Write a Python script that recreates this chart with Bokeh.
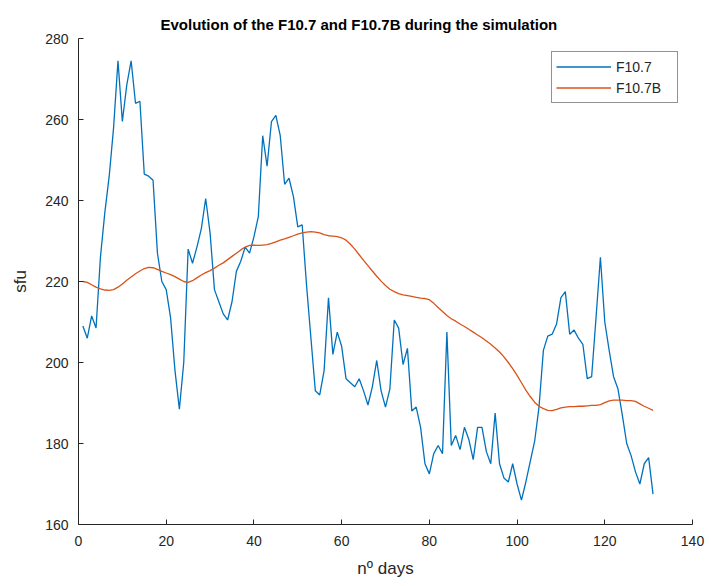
from bokeh.plotting import figure
from bokeh.models import Range1d, FixedTicker, Legend, LegendItem
from bokeh.embed import file_html
from bokeh.resources import INLINE

days = list(range(1, 132))

f107 = [209, 206, 211.5, 208.5, 226, 237, 246, 258, 274.5, 259.5,
        268.5, 274.5, 264, 264.5, 246.5, 246, 245, 227, 220, 218,
        211, 198, 188.5, 200, 228, 224.5, 228.5, 233, 240.5, 232,
        218, 215, 212, 210.5, 215, 222.5, 225, 228.5, 227, 231,
        236, 256, 248.5, 259.5, 261, 256, 244, 245.5, 241, 233.5,
        234, 219, 206, 193, 192, 198, 216, 202, 207.5, 204,
        196, 195, 194, 196, 193, 189.5, 194, 200.5, 193, 189,
        193.5, 210.5, 208.5, 199.5, 203.5, 188, 189, 184, 175, 172.5,
        177.5, 179.5, 177.5, 207.5, 179.5, 182, 178.5, 184, 181, 176,
        184, 184, 178, 175, 187.5, 175, 171.5, 170.5, 175, 170,
        166, 170.5, 175.5, 180.5, 189, 203, 206.5, 207, 209.5, 216,
        217.5, 207, 208, 206, 204.5, 196, 196.5, 211, 226, 210,
        203, 196.5, 193.5, 187, 180, 177, 173, 170, 175, 176.5,
        167.5]

f107b = [220.0, 219.8, 219.2, 218.6, 218.2, 217.9, 217.8, 218.0, 218.6, 219.4,
         220.3, 221.1, 221.9, 222.6, 223.2, 223.5, 223.4, 223.0, 222.5, 222.1,
         221.7, 221.2, 220.6, 220.0, 219.8, 220.2, 220.9, 221.6, 222.2, 222.7,
         223.3, 224.0, 224.6, 225.4, 226.2, 227.0, 227.8, 228.5, 228.9, 229.0,
         228.9, 229.0, 229.1, 229.4, 229.8, 230.2, 230.5, 230.9, 231.3, 231.7,
         232.0, 232.2, 232.3, 232.2, 232.0, 231.6, 231.3, 231.2, 231.1, 230.8,
         230.2, 229.2, 228.0, 226.6, 225.2, 223.9, 222.6, 221.3, 220.1, 219.0,
         218.1, 217.5, 217.0, 216.7, 216.5, 216.3, 216.1, 215.9, 215.8, 215.5,
         214.6, 213.6, 212.6, 211.6, 210.8, 210.2, 209.5, 208.9, 208.2, 207.5,
         206.8, 206.1, 205.3, 204.5, 203.6, 202.6, 201.4, 200.0, 198.5, 196.8,
         195.0, 193.2, 191.6, 190.2, 189.2, 188.6, 188.2, 188.1, 188.4, 188.8,
         189.0, 189.1, 189.1, 189.2, 189.2, 189.3, 189.4, 189.4, 189.6, 190.1,
         190.5, 190.7, 190.7, 190.7, 190.6, 190.6, 190.4, 189.8, 189.2, 188.7,
         188.2]

x_ticks = [0, 20, 40, 60, 80, 100, 120, 140]
y_ticks = [160, 180, 200, 220, 240, 260, 280]

FONT = "Liberation Sans"
AX = "#262626"

p = figure(width=711, height=586, output_backend="svg", toolbar_location=None,
           x_range=Range1d(0, 140), y_range=Range1d(160, 280),
           min_border_left=78, min_border_right=19, min_border_top=38,
           min_border_bottom=62,
           title="Evolution of the F10.7 and F10.7B during the simulation")

p.title.text_font = FONT
p.title.text_font_size = "15px"
p.title.text_font_style = "bold"
p.title.text_color = "black"
p.title.align = "left"
p.title.offset = 82
p.title.standoff = 12

p.xgrid.visible = False
p.ygrid.visible = False
p.outline_line_color = None
p.background_fill_color = "white"
p.border_fill_color = "white"

for ax in (p.xaxis[0], p.yaxis[0]):
    ax.axis_line_color = AX
    ax.major_tick_line_color = AX
    ax.minor_tick_line_color = None
    ax.major_tick_in = 5
    ax.major_tick_out = 0
    ax.major_label_text_font = FONT
    ax.major_label_text_font_size = "14px"
    ax.major_label_text_color = AX
    ax.axis_label_text_font = FONT
    ax.axis_label_text_font_size = "17px"
    ax.axis_label_text_font_style = "normal"
    ax.axis_label_text_color = AX

p.xaxis.ticker = FixedTicker(ticks=x_ticks)
p.yaxis.ticker = FixedTicker(ticks=y_ticks)
p.xaxis.axis_label = "nº days"
p.yaxis.axis_label = "sfu"
p.xaxis.major_label_standoff = 11
p.yaxis.major_label_standoff = 10
p.xaxis.axis_label_standoff = 10
p.yaxis.axis_label_standoff = 12

r1 = p.line(days, f107, line_color="#0072BD", line_width=1.3)
r2 = p.line(days, f107b, line_color="#D95319", line_width=1.3)

legend = Legend(items=[LegendItem(label="F10.7", renderers=[r1]),
                       LegendItem(label="F10.7B", renderers=[r2])],
                location=(473, 421))
legend.border_line_color = AX
legend.border_line_width = 1
legend.background_fill_color = "white"
legend.background_fill_alpha = 1
legend.label_text_font = FONT
legend.label_text_font_size = "14px"
legend.label_text_color = AX
legend.glyph_width = 55
legend.glyph_height = 21
legend.label_height = 21
legend.label_width = 57
legend.label_standoff = 5
legend.padding = 4
legend.spacing = 0
legend.margin = 0
p.add_layout(legend)

open("out.html", "w").write(file_html(p, INLINE))
